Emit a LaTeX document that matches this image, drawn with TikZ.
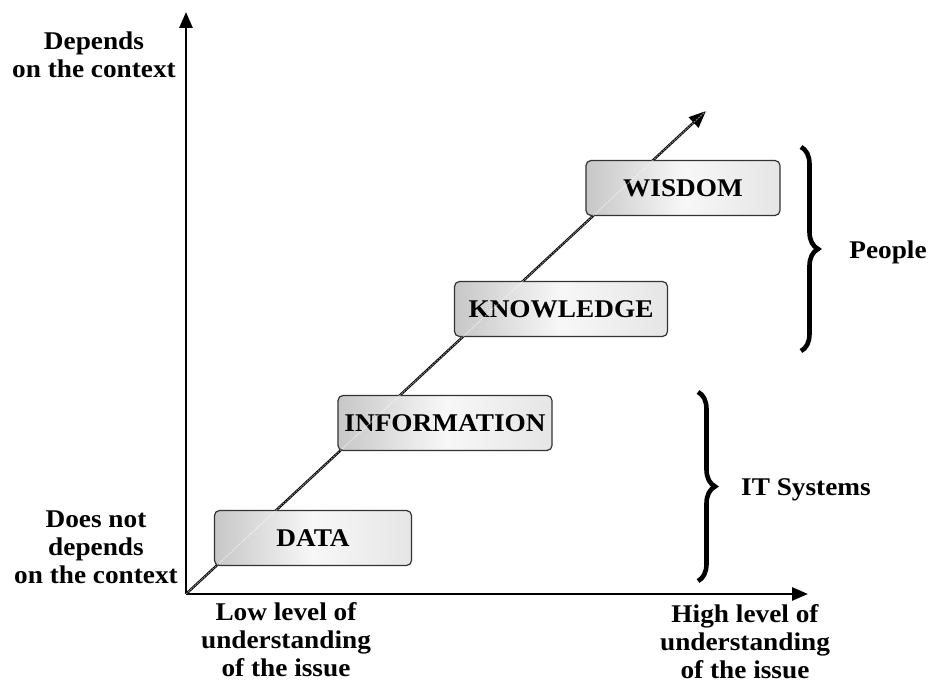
\documentclass[tikz,border=0pt]{standalone}
\usepackage{fontspec}
\setmainfont[FakeStretch=1.07]{Liberation Serif}
\usetikzlibrary{arrows.meta,decorations.pathreplacing}
\begin{document}
\begin{tikzpicture}[x=1pt,y=-1pt,
  lbl/.style={font=\bfseries\fontsize{25.5}{28}\selectfont, align=center, inner sep=0pt},
  stage/.style={draw=black!80, line width=1.2pt, rounded corners=5pt,
    left color=black!22, right color=black!10, middle color=black!3,
    minimum height=55pt, inner sep=0pt, font=\bfseries\fontsize{25.5}{28}\selectfont},
  axis/.style={line width=2.8pt, -{Triangle[length=16pt,width=13pt]}},
  diag/.style={line width=2.4pt, -{Triangle[length=17pt,width=14pt]}},
  brc/.style={line width=4.6pt, decorate, decoration={brace, amplitude=17pt}}
]
\useasboundingbox (0,0) rectangle (940,684);
\coordinate (O) at (186,594);
\coordinate (Ytop) at (186,12);
\coordinate (Xend) at (808,594);
\coordinate (Dend) at (706,111);
\draw[axis] (O) -- (Ytop);
\draw[axis] (O) -- (Xend);
\draw[diag] (O) -- (Dend);

\node[stage, minimum width=197pt] (data) at (313,538) {DATA};
\node[stage, minimum width=214pt] (info) at (445,423) {INFORMATION};
\node[stage, minimum width=213pt] (know) at (561,309) {KNOWLEDGE};
\node[stage, minimum width=194pt] (wis) at (683,188) {WISDOM};

\draw[white, opacity=0.5, line width=1pt, dash pattern=on 2pt off 1pt] (O) -- (Dend);

\coordinate (pb1) at (801,147);
\coordinate (pb2) at (801,351);
\draw[brc] (pb1) -- (pb2);
\coordinate (ib1) at (698,392);
\coordinate (ib2) at (698,581);
\draw[brc] (ib1) -- (ib2);

\node[lbl] (dep) at (94,55) {Depends\\on the context};
\node[lbl] (ndep) at (96,547) {Does not\\depends\\on the context};
\node[lbl] (people) at (888,252) {People};
\node[lbl] (its) at (806,490) {IT Systems};
\node[lbl] (low) at (286,640) {Low level of\\understanding\\of the issue};
\node[lbl] (high) at (745,642) {High level of\\understanding\\of the issue};
\end{tikzpicture}
\end{document}
